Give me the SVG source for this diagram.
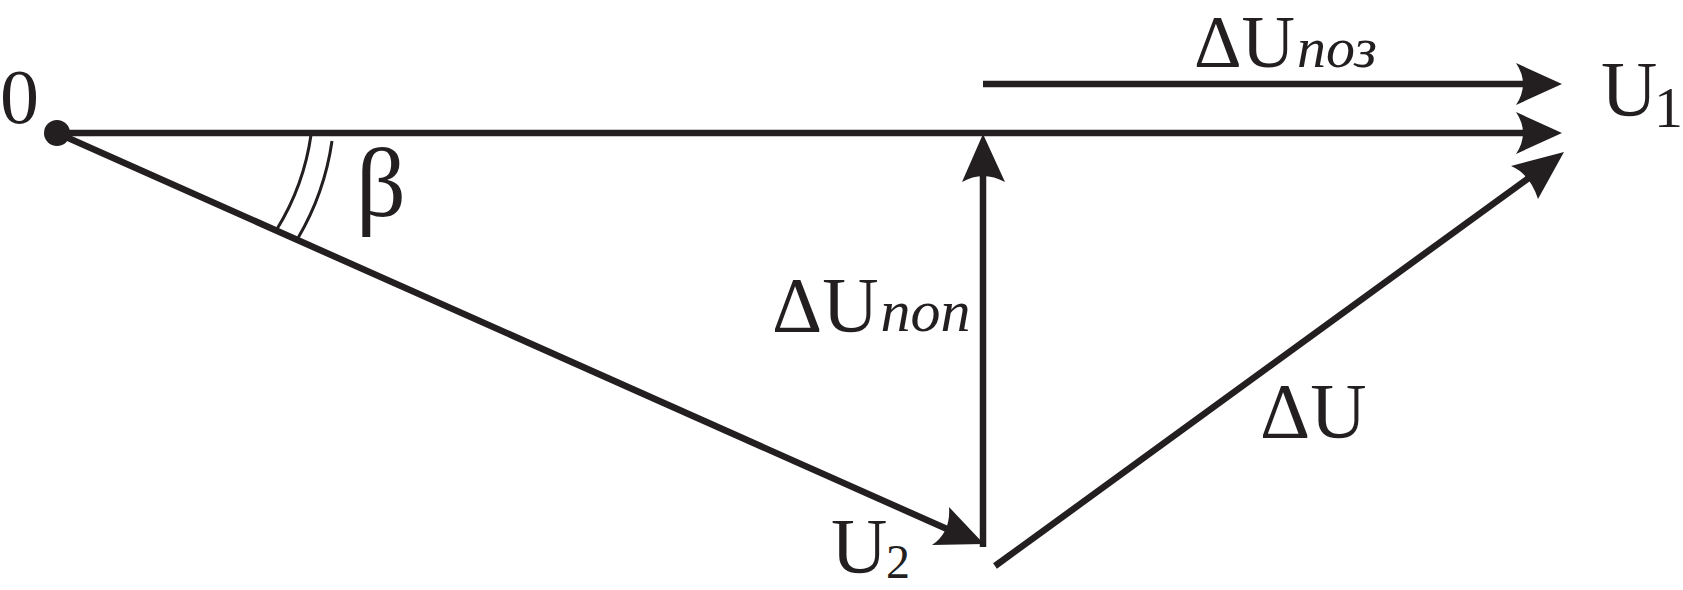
<svg xmlns="http://www.w3.org/2000/svg" width="1683" height="590" viewBox="0 0 1683 590">
<style>
  .ln { stroke: #231f20; stroke-width: 6.5; fill: none; stroke-linecap: butt; }
  .arc { stroke: #231f20; stroke-width: 3; fill: none; }
  .ah { fill: #231f20; stroke: none; }
  .t { font-family: "Liberation Serif", "Times New Roman", serif; fill: #231f20; font-size: 78px; }
  .it { font-style: italic; font-size: 60px; }
  .sub { font-size: 56px; }
</style>
<rect width="1683" height="590" fill="#ffffff"/>
<g id="connectors">
  <line class="ln" x1="57" y1="133" x2="1526" y2="133"/>
  <path class="ah" d="M1562,133 L1516,112 Q1530,133 1516,154 Z"/>
  <line class="ln" x1="983" y1="84" x2="1526" y2="84"/>
  <path class="ah" d="M1562,84 L1516,63 Q1530,84 1516,105 Z"/>
  <line class="ln" x1="57" y1="133" x2="947" y2="529"/>
  <path class="ah" d="M984,544 L949,507 Q951,532 932,545 Z"/>
  <line class="ln" x1="983" y1="547" x2="983" y2="172"/>
  <path class="ah" d="M983,134 L1005,182 Q983,170 962,182 Z"/>
  <line class="ln" x1="995" y1="566" x2="1530" y2="177"/>
  <path class="ah" d="M1564,152 L1511,166 Q1530,174 1538,199 Z"/>
  <path class="arc" d="M311,135 A245,245 0 0 1 277,229"/>
  <path class="arc" d="M332,141 A265,265 0 0 1 298,238"/>
</g>
<g id="node-origin">
  <circle cx="57" cy="133" r="13" fill="#231f20"/>
  <text class="t" x="0" y="123">0</text>
</g>
<g id="label-beta">
  <text class="t" x="356" y="216" style="font-size:98px">β</text>
</g>
<g id="label-dU-poz">
  <text class="t" x="1194" y="67" style="font-size:74px">ΔU<tspan class="it" dx="2" style="font-size:58px">поз</tspan></text>
</g>
<g id="node-U1">
  <text class="t" x="1601" y="115">U<tspan class="sub" x="1654" y="127" style="font-size:58px">1</tspan></text>
</g>
<g id="label-dU-pop">
  <text class="t" x="772" y="331">ΔU<tspan class="it" dx="2">поп</tspan></text>
</g>
<g id="node-U2">
  <text class="t" x="831" y="572">U<tspan class="sub" x="886" y="578" style="font-size:48px">2</tspan></text>
</g>
<g id="label-dU">
  <text class="t" x="1260" y="437">ΔU</text>
</g>
</svg>
